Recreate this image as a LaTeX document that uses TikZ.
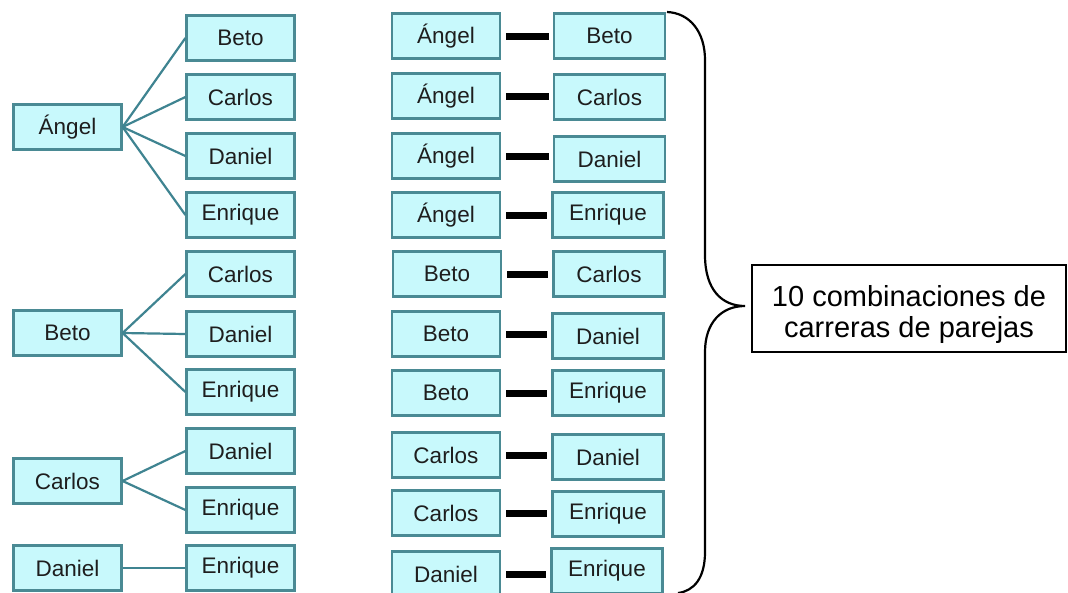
\documentclass[tikz,border=0pt]{standalone}
\usepackage{fontspec}
\setmainfont{Liberation Sans}
\definecolor{boxfill}{HTML}{C8F9FC}
\definecolor{boxline}{HTML}{4A8A94}
\definecolor{linkcol}{HTML}{3F8491}
\definecolor{txtcol}{HTML}{1E1E1E}
\tikzset{
  namebox/.style={draw=boxline, line width=2.2pt, fill=boxfill, minimum width=108pt,
    minimum height=45pt, inner sep=0pt, text=txtcol, font=\fontsize{22.5}{22.5}\selectfont},
  namewide/.style={namebox, minimum width=111pt},
  treelink/.style={draw=linkcol, line width=2.2pt},
  pairbar/.style={draw=black, line width=7pt, shorten <=5pt, shorten >=4pt},
  bracestyle/.style={draw=black, line width=2.2pt},
  notebox/.style={draw=black, line width=1.6pt, fill=white, minimum width=314pt,
    minimum height=87pt, inner sep=0pt},
  notetext/.style={inner sep=0pt, align=center, font=\fontsize{29}{31}\selectfont}
}
\begin{document}
\begin{tikzpicture}[x=1pt,y=-1pt]
\useasboundingbox (0,0) rectangle (1068,592);
\fill[white] (0,0) rectangle (1068,592);
% ---- left trees: roots
\node[namebox] (rA) at (67.5,127) {Ángel};
\node[namebox] (rB) at (67.5,333) {Beto};
\node[namebox] (rC) at (67.5,481) {Carlos};
\node[namebox] (rD) at (67.5,568) {Daniel};
% children
\node[namebox] (cAB) at (240.5,38) {Beto};
\node[namebox] (cAC) at (240.5,97) {Carlos};
\node[namebox] (cAD) at (240.5,156) {Daniel};
\node[namebox] (cAE) at (240.5,215) {Enrique};
\node[namebox] (cBC) at (240.5,274) {Carlos};
\node[namebox] (cBD) at (240.5,334) {Daniel};
\node[namebox] (cBE) at (240.5,392) {Enrique};
\node[namebox] (cCD) at (240.5,451) {Daniel};
\node[namebox] (cCE) at (240.5,510) {Enrique};
\node[namebox] (cDE) at (240.5,568) {Enrique};
% tree links
\foreach \c in {cAB,cAC,cAD,cAE} \draw[treelink] (rA.east) -- (\c.west);
\foreach \c in {cBC,cBD,cBE} \draw[treelink] (rB.east) -- (\c.west);
\foreach \c in {cCD,cCE} \draw[treelink] (rC.east) -- (\c.west);
\draw[treelink, line width=1.6pt] (rD.east) -- (cDE.west);
% ---- right pairs
\node[namebox] (p1l) at (446,36) {Ángel};
\node[namewide] (p1r) at (609.5,36) {Beto};
\node[namebox] (p2l) at (446,96) {Ángel};
\node[namewide] (p2r) at (609.5,97) {Carlos};
\node[namebox] (p3l) at (446,156) {Ángel};
\node[namewide] (p3r) at (609.5,159) {Daniel};
\node[namebox] (p4l) at (446,215) {Ángel};
\node[namewide] (p4r) at (608,215) {Enrique};
\node[namebox] (p5l) at (447,274) {Beto};
\node[namewide] (p5r) at (609,274) {Carlos};
\node[namebox] (p6l) at (446,334) {Beto};
\node[namewide] (p6r) at (608,336) {Daniel};
\node[namebox] (p7l) at (446,393) {Beto};
\node[namewide] (p7r) at (608,393) {Enrique};
\node[namebox] (p8l) at (446,455) {Carlos};
\node[namewide] (p8r) at (608,457) {Daniel};
\node[namebox] (p9l) at (446,513) {Carlos};
\node[namewide] (p9r) at (608,514) {Enrique};
\node[namebox] (p10l) at (446,574) {Daniel};
\node[namewide] (p10r) at (607,571) {Enrique};
\foreach \i in {1,...,10} \draw[pairbar] (p\i l.east) -- (p\i l.east -| p\i r.west);
% ---- brace
\draw[bracestyle] (667,12) .. controls (690,13) and (705,32) .. (705,60)
  -- (705,255) .. controls (705,290) and (722,306) .. (745,306)
  .. controls (722,306) and (705,322) .. (705,352)
  -- (705,552) .. controls (705,578) and (694,591) .. (678,593);
% ---- note
\node[notebox] (note) at (909,308.5) {};
\node[notetext] (notetxt) at (909,314) {10 combinaciones de\\carreras de parejas};
\end{tikzpicture}
\end{document}
